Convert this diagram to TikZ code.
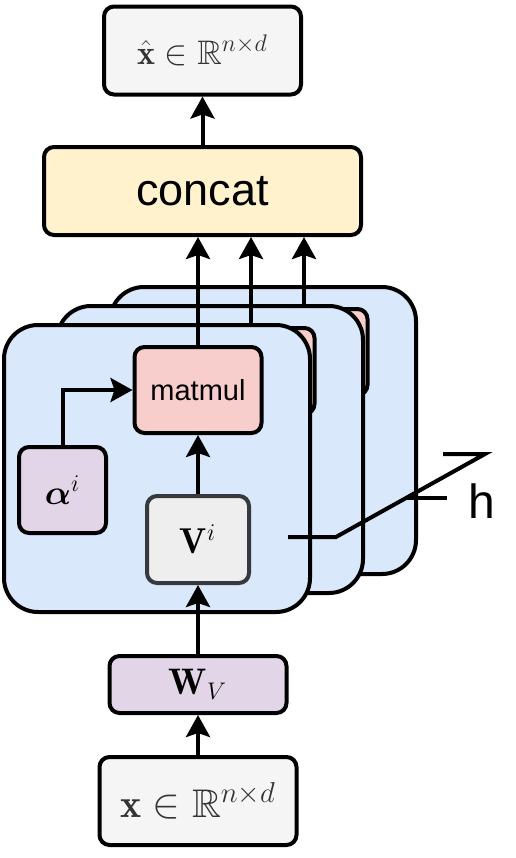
\documentclass[tikz,border=0pt]{standalone}
\usepackage{amsmath,amssymb}
\usepackage{fontspec}
\newfontfamily\helv{Liberation Sans}
\usepackage{tikz}
\usetikzlibrary{arrows.meta}
\definecolor{blu}{HTML}{DAE8FC}
\definecolor{pnk}{HTML}{F8CECC}
\definecolor{yel}{HTML}{FFF2CC}
\definecolor{pur}{HTML}{E1D5E7}
\definecolor{gry}{HTML}{F5F5F5}
\definecolor{vgry}{HTML}{EEEEEE}
\definecolor{vline}{HTML}{36393D}
\definecolor{dtxt}{HTML}{333333}
\tikzset{box/.style={rectangle,draw,line width=2pt,rounded corners=5pt,inner sep=0pt},
  panel/.style={box,fill=blu,rounded corners=17pt,minimum width=153pt,minimum height=143.5pt},
  iobox/.style={box,fill=gry,text=dtxt,minimum width=98.5pt,minimum height=44pt},
  mulbox/.style={box,fill=pnk,minimum width=63.5pt,minimum height=43pt,font=\helv\fontsize{14.5}{17}\selectfont},
  wbox/.style={box,fill=pur},
  vbox/.style={box,fill=vgry,draw=vline,minimum width=51pt,minimum height=43.5pt,font=\fontsize{18}{21}\selectfont}}

\begin{document}
\begin{tikzpicture}[x=0.5pt,y=-0.5pt,line width=2pt,>={Stealth[length=11pt,width=12pt,inset=2pt]}]
    \useasboundingbox (0,0) rectangle (515,858);
    \node[iobox,font=\fontsize{17}{20}\selectfont] (xhat) at (202.5,50.5) {$\hat{\mathbf{x}}\in\mathbb{R}^{n\times d}$};
    \node[box,fill=yel,minimum width=158.5pt,minimum height=44pt,font=\helv\fontsize{22.5}{26}\selectfont] (concat) at (202.5,191) {concat};
    \node[wbox,minimum width=88.5pt,minimum height=28.5pt,font=\fontsize{18.5}{21}\selectfont] (wv) at (198,684.5) {$\mathbf{W}_V$};
    \node[iobox,font=\fontsize{20}{23}\selectfont] (x) at (198,801) {$\mathbf{x}\in\mathbb{R}^{n\times d}$};

    \draw [->] (concat) -- (xhat);
    \draw [->] (x) -- (wv);

    \foreach \k/\lbl in {2/{},1/{},0/matmul}{
    \begin{scope}[shift={(53*\k,-19*\k)}]
        \node[panel] (panel\k) at (157,468.5) {};
        \node[mulbox] (matmul\k) at (198,390) {\lbl};
        \draw [->] (matmul\k) -- (matmul\k |- concat.south);
    \end{scope}
    }

    \node[wbox,minimum width=43.5pt,minimum height=43pt,font=\fontsize{17}{20}\selectfont] (alpha) at (62.5,490) {$\boldsymbol{\alpha}^i$};
    \node[vbox] (v) at (198,539.5) {$\mathbf{V}^i$};
    \draw [->] (v) -- (matmul0);
    \draw [->] (alpha) |- (matmul0);
    \draw [->] (wv) -- (v);

    \coordinate (h1) at (288,537);
    \coordinate (h2) at (336,537);
    \coordinate (h3) at (485,454);
    \coordinate (h4) at (443,454);
    \coordinate (t1) at (406,498);
    \coordinate (t2) at (447,498);
    \draw [] (h1) -- (h2) -- (h3) -- (h4);
    \draw [] (t1) -- (t2);
    \node[anchor=base west,inner sep=0pt,font=\helv\fontsize{24}{28}\selectfont] (hlab) at (466,518) {h};
\end{tikzpicture}
\end{document}
